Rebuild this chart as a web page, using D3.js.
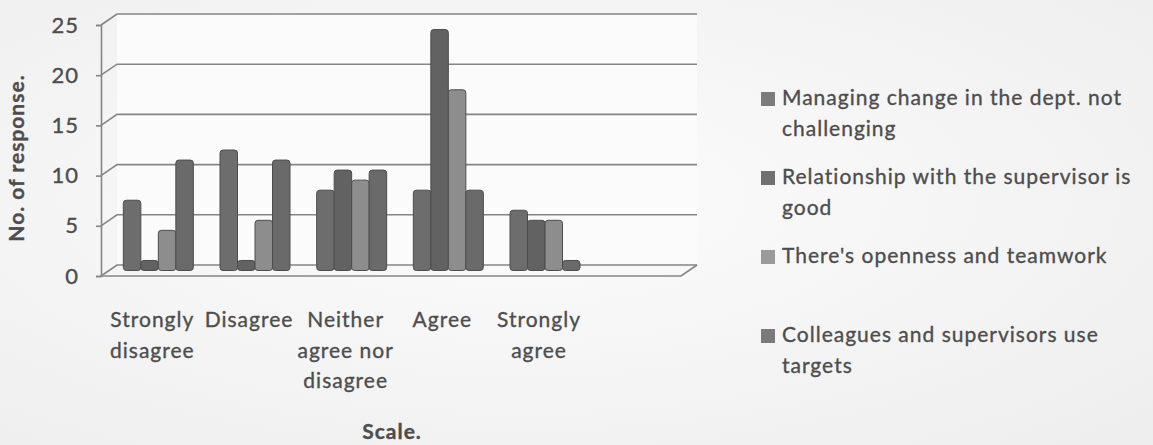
<!DOCTYPE html>
<html>
<head>
<meta charset="utf-8">
<script src="https://cdn.jsdelivr.net/npm/d3@7"></script>
<style>
  html, body { margin: 0; padding: 0; background: #f5f5f5; }
  svg { display: block; }
  text { font-family: Lato, "Open Sans", sans-serif; fill: #4d4d4d; letter-spacing: 1px;
         stroke: #4d4d4d; stroke-width: 0.35px; }
</style>
</head>
<body>
<svg id="chart" width="1153" height="445"></svg>
<script>
// Likert scale categories along the x axis
const categories = ["Strongly disagree", "Disagree", "Neither agree nor disagree", "Agree", "Strongly agree"];

// Statement names (legend order)
const seriesNames = [
  "Managing change in the dept. not challenging",
  "Relationship with the supervisor is good",
  "There's openness and teamwork",
  "Colleagues and supervisors use targets"
];

// Number of responses per category for each statement
const managingChange = [7, 12, 8, 8, 6];
const supervisorRelationship = [1, 1, 10, 24, 5];
const opennessTeamwork = [4, 5, 9, 18, 5];
const useTargets = [11, 11, 10, 8, 1];

const yTicks = [0, 5, 10, 15, 20, 25];
const yTitle = "No. of response.";
const xTitle = "Scale.";

const seriesValues = [managingChange, supervisorRelationship, opennessTeamwork, useTargets];
const seriesFill = ["#6d6d6d", "#626262", "#8d8d8d", "#6a6a6a"];
const legendFill = ["#7b7b7b", "#707070", "#9b9b9b", "#7b7b7b"];

const svg = d3.select("#chart");
const W = 1153, H = 445;

// soft background shading
const defs = svg.append("defs");
const bg = defs.append("radialGradient").attr("id", "bg").attr("cx", "45%").attr("cy", "45%").attr("r", "75%");
bg.append("stop").attr("offset", "0%").attr("stop-color", "#fcfcfc");
bg.append("stop").attr("offset", "100%").attr("stop-color", "#eeeeee");
svg.append("rect").attr("width", W).attr("height", H).attr("fill", "url(#bg)");

// 3-D frame: front plane and depth offset
const axisX = 101, frontRight = 681;
const depthX = 16, depthY = -11;
const y = d3.scaleLinear().domain([0, 25]).range([276, 25]);

// six slots across the floor, the last one left empty
const slot = (frontRight - axisX) / 6;
const x = d3.scaleBand().domain(categories).range([axisX, axisX + slot * 5]);
const inner = d3.scaleBand().domain(d3.range(seriesNames.length)).range([-35, 35]);

// back wall
svg.append("rect")
  .attr("x", axisX + depthX).attr("y", y(25) + depthY)
  .attr("width", frontRight - axisX).attr("height", y(0) - y(25))
  .attr("fill", "#fbfbfb");

const grid = svg.append("g").attr("stroke", "#858585").attr("stroke-width", 1.6).attr("fill", "none");

// horizontal gridlines on the back wall, with the side diagonal
yTicks.forEach(t => {
  grid.append("path").attr("d", d3.line()([
    [axisX, y(t)], [axisX + depthX, y(t) + depthY], [frontRight + depthX, y(t) + depthY]
  ]));
});

// floor front edge and right side
grid.append("path").attr("d", d3.line()([
  [axisX, y(0)], [frontRight, y(0)], [frontRight + depthX, y(0) + depthY]
]));

// vertical axis with tick marks
const axis = d3.axisLeft(y).tickValues(yTicks).tickSize(5).tickPadding(17);
const axG = svg.append("g").attr("transform", `translate(${axisX},0)`).call(axis);
axG.select(".domain").attr("stroke", "#858585").attr("stroke-width", 1.6);
axG.selectAll(".tick line").attr("stroke", "#858585").attr("stroke-width", 1.6);
axG.selectAll(".tick text")
  .attr("font-size", 22).attr("font-family", "Lato").attr("fill", "#4a4a4a")
  .attr("stroke", "#4a4a4a").attr("stroke-width", 0.35)
  .attr("letter-spacing", "1px");

// bars, placed halfway into the depth
const barDX = 9, barDY = depthY / 2;
const bars = svg.append("g");
seriesValues.forEach((vals, s) => {
  bars.selectAll(null).data(vals).enter().append("rect")
    .attr("x", (d, i) => x(categories[i]) + x.bandwidth() / 2 + barDX + inner(s))
    .attr("y", d => y(d) + barDY)
    .attr("width", inner.bandwidth())
    .attr("height", d => y(0) - y(d))
    .attr("rx", 3)
    .attr("fill", seriesFill[s])
    .attr("stroke", "#4c4c4c")
    .attr("stroke-width", 1);
});

// wraps words into lines no wider than maxW
function wrapLines(textSel, str, maxW) {
  const words = str.split(" ");
  const lines = [];
  let cur = [];
  const probe = textSel.append("tspan");
  words.forEach(w => {
    const trial = cur.concat([w]).join(" ");
    probe.text(trial);
    if (probe.node().getComputedTextLength() > maxW && cur.length) {
      lines.push(cur.join(" "));
      cur = [w];
    } else {
      cur.push(w);
    }
  });
  if (cur.length) lines.push(cur.join(" "));
  probe.remove();
  return lines;
}

// category labels
const lineH = 30.5;
categories.forEach(c => {
  const t = svg.append("text")
    .attr("font-size", 21)
    .attr("text-anchor", "middle");
  const cx = x(c) + x.bandwidth() / 2 + 3;
  const lines = wrapLines(t, c, x.bandwidth());
  lines.forEach((ln, i) => {
    t.append("tspan").attr("x", cx).attr("y", 327 + i * lineH).text(ln);
  });
});

// axis titles
svg.append("text")
  .attr("transform", `translate(24,158) rotate(-90)`)
  .attr("text-anchor", "middle")
  .attr("font-size", 21).attr("font-weight", "bold")
  .attr("fill", "#404040").attr("stroke", "none")
  .text(yTitle);

svg.append("text")
  .attr("x", 392).attr("y", 439)
  .attr("text-anchor", "middle")
  .attr("font-size", 21).attr("font-weight", "bold")
  .attr("fill", "#404040").attr("stroke", "none")
  .text(xTitle);

// legend
const legendY = d3.scalePoint().domain(d3.range(seriesNames.length)).range([105, 342]);
const legend = svg.append("g");
seriesNames.forEach((name, s) => {
  const by = legendY(s);
  legend.append("rect")
    .attr("x", 761).attr("y", by - 13)
    .attr("width", 14).attr("height", 14)
    .attr("fill", legendFill[s]);
  const t = legend.append("text").attr("font-size", 21);
  const lines = wrapLines(t, name, 365);
  lines.forEach((ln, i) => {
    t.append("tspan").attr("x", 782).attr("y", by + i * lineH).text(ln);
  });
});
</script>
</body>
</html>
